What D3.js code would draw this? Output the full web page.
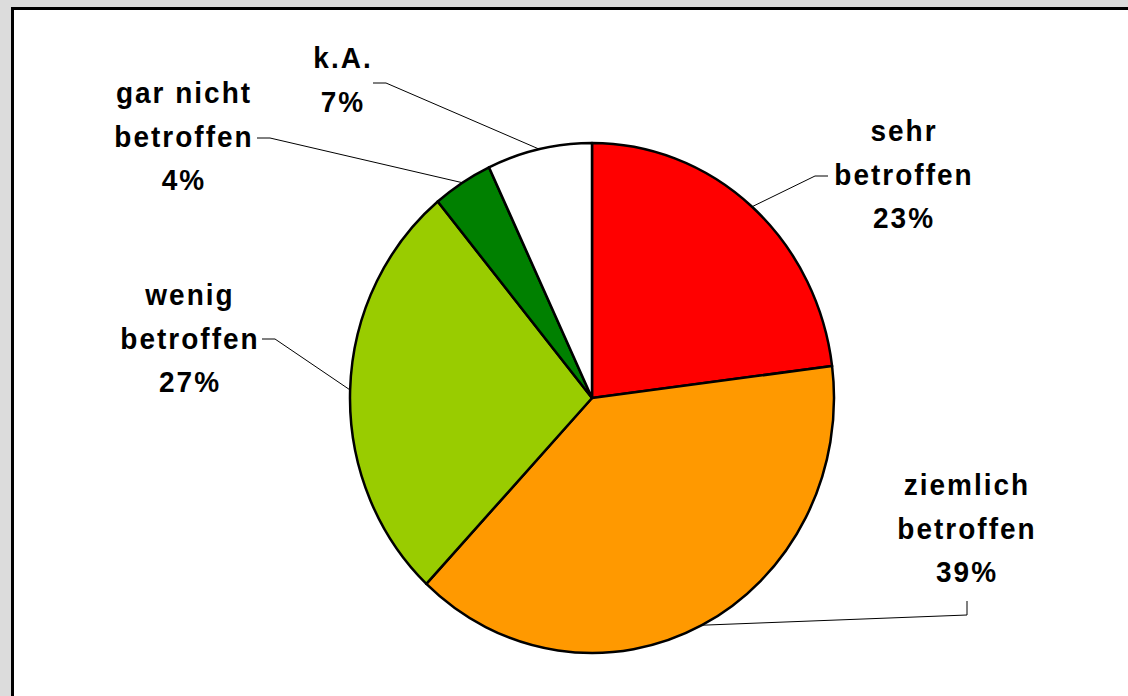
<!DOCTYPE html>
<html>
<head>
<meta charset="utf-8">
<script src="https://cdn.jsdelivr.net/npm/d3@7"></script>
<style>
  html, body { margin: 0; padding: 0; background: #dcdcdc; }
  svg { display: block; }
  .label { font-family: "Liberation Sans", Arial, sans-serif; font-weight: bold; font-size: 28px; letter-spacing: 2px; fill: #000; }
  .leader { fill: none; stroke: #000; stroke-width: 1; }
</style>
</head>
<body>
<div id="chart"></div>
<script>
// data
const categories = ["sehr betroffen", "ziemlich betroffen", "wenig betroffen", "gar nicht betroffen", "k.A."];
const labelLines = [["sehr", "betroffen"], ["ziemlich", "betroffen"], ["wenig", "betroffen"], ["gar nicht", "betroffen"], ["k.A."]];
const values = [23, 39, 27, 4, 7];
const colors = ["#ff0000", "#ff9900", "#99cc00", "#008000", "#ffffff"];

// label layout: text anchor (first baseline) + leader bend and end
const labelPos = [
  {x: 903, y: 141, bend: [815, 176], end: [828, 176]},
  {x: 966, y: 495, bend: [967, 615], end: [967, 601]},
  {x: 189, y: 305, bend: [275, 339], end: [262, 339]},
  {x: 183, y: 103, bend: [270, 138], end: [257, 138]},
  {x: 342, y: 68,  bend: [386, 83],  end: [373, 83]}
];

const width = 1128, height = 696;
const cx = 592, cy = 398, rx = 242, ry = 255;
const lineGap = 43.5;
const stretch = 1.07; // text is a bit taller than normal in the original

const svg = d3.select("#chart").append("svg")
    .attr("width", width)
    .attr("height", height);

// plot area frame
svg.append("rect")
    .attr("x", 12.5).attr("y", 8.5)
    .attr("width", width).attr("height", height)
    .attr("fill", "#fff")
    .attr("stroke", "#000")
    .attr("stroke-width", 3);

const pie = d3.pie().sort(null).value(d => d);
const arcs = pie(values);

const arc = d3.arc().innerRadius(0).outerRadius(rx);

// pie is slightly taller than wide, like the original
const g = svg.append("g")
    .attr("transform", `translate(${cx},${cy}) scale(1,${ry / rx})`);

g.selectAll("path.slice")
    .data(arcs)
  .enter().append("path")
    .attr("class", "slice")
    .attr("d", arc)
    .attr("fill", (d, i) => colors[i])
    .attr("stroke", "#000")
    .attr("stroke-width", 2.5)
    .attr("stroke-linejoin", "round")
    .attr("vector-effect", "non-scaling-stroke");

// point on the rim at the middle of each slice
function rimPoint(d) {
  const a = (d.startAngle + d.endAngle) / 2;
  return [cx + rx * Math.sin(a), cy - ry * Math.cos(a)];
}

svg.selectAll("polyline.leader")
    .data(arcs)
  .enter().append("polyline")
    .attr("class", "leader")
    .attr("points", (d, i) => {
      const p = rimPoint(d), L = labelPos[i];
      return [p, L.bend, L.end].map(q => q.join(",")).join(" ");
    });

const labels = svg.selectAll("g.label-group")
    .data(arcs)
  .enter().append("g")
    .attr("class", "label-group");

labels.each(function(d, i) {
  const lines = labelLines[i].concat([values[i] + "%"]);
  lines.forEach((s, k) => {
    d3.select(this).append("text")
      .attr("class", "label")
      .attr("text-anchor", "middle")
      .attr("transform", `translate(${labelPos[i].x + 1},${labelPos[i].y + k * lineGap}) scale(1,${stretch})`)
      .text(s);
  });
});
</script>
</body>
</html>
